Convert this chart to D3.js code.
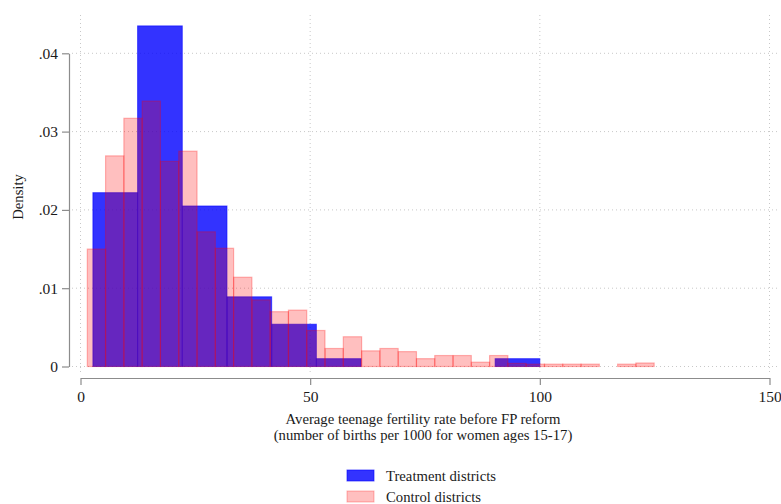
<!DOCTYPE html>
<html>
<head>
<meta charset="utf-8">
<script src="https://cdn.jsdelivr.net/npm/d3@7"></script>
<style>
  html, body { margin: 0; padding: 0; background: #fff; }
  svg { display: block; }
  text { font-family: "Liberation Serif", "Times New Roman", serif; fill: #1a1a1a; }
</style>
</head>
<body>
<svg id="chart" width="781" height="504"></svg>
<script>
// ---- data ----
const xTicks = [0, 50, 100, 150];
const yTicks = [0, 0.01, 0.02, 0.03, 0.04];
const yTickLabels = ["0", ".01", ".02", ".03", ".04"];
const seriesNames = ["Treatment districts", "Control districts"];

const treatmentEdges = [2.7, 12.43, 22.16, 31.89, 41.62, 51.35, 61.08, 70.81, 80.54, 90.27, 100.0];
const treatmentDensity = [0.0222, 0.0435, 0.0205, 0.0089, 0.0054, 0.0010, 0, 0, 0, 0.0010];

const controlEdges = [1.48, 5.46, 9.44, 13.42, 17.40, 21.39, 25.37, 29.35, 33.33, 37.31,
  41.29, 45.27, 49.25, 53.23, 57.21, 61.20, 65.18, 69.16, 73.14, 77.12,
  81.10, 85.08, 89.06, 93.04, 97.02, 101.01, 104.99, 108.97, 112.95, 116.93,
  120.91, 124.89];
const controlDensity = [0.0150, 0.0269, 0.0317, 0.0339, 0.0262, 0.0275, 0.0172, 0.0151, 0.0114, 0.0085,
  0.0070, 0.0072, 0.0046, 0.0023, 0.0038, 0.0020, 0.0023, 0.0019, 0.0010, 0.0014,
  0.0014, 0.00055, 0.0014, 0.0004, 0.0003, 0.0003, 0.0003, 0.0003, 0, 0.0003,
  0.00045];

const xTitle1 = "Average teenage fertility rate before FP reform";
const xTitle2 = "(number of births per 1000 for women ages 15-17)";
const yTitle = "Density";

// ---- layout ----
const svg = d3.select("#chart");
const x = d3.scaleLinear().domain([0, 150]).range([80.5, 769.5]);
const y = d3.scaleLinear().domain([0, 0.04]).range([366.5, 53.3]);

const gridColor = "#c8c8c8";
svg.append("g").selectAll("line").data(yTicks).join("line")
  .attr("x1", 72).attr("x2", 777)
  .attr("y1", d => y(d)).attr("y2", d => y(d))
  .attr("stroke", gridColor).attr("stroke-width", 1)
  .attr("stroke-dasharray", "1,3");
svg.append("g").selectAll("line").data(xTicks).join("line")
  .attr("x1", d => x(d)).attr("x2", d => x(d))
  .attr("y1", 15).attr("y2", 375)
  .attr("stroke", gridColor).attr("stroke-width", 1)
  .attr("stroke-dasharray", "1,3");

function bins(edges, dens) {
  return dens.map((v, i) => ({ x0: edges[i], x1: edges[i + 1], v }));
}

svg.append("g").selectAll("rect").data(bins(treatmentEdges, treatmentDensity).filter(d => d.v > 0)).join("rect")
  .attr("x", d => x(d.x0)).attr("width", d => x(d.x1) - x(d.x0))
  .attr("y", d => y(d.v)).attr("height", d => y(0) - y(d.v))
  .attr("fill", "#0000ff").attr("fill-opacity", 0.8)
  .attr("stroke", "#0000ff").attr("stroke-opacity", 0.6).attr("stroke-width", 1);

svg.append("g").selectAll("rect").data(bins(controlEdges, controlDensity).filter(d => d.v > 0)).join("rect")
  .attr("x", d => x(d.x0)).attr("width", d => x(d.x1) - x(d.x0))
  .attr("y", d => y(d.v)).attr("height", d => y(0) - y(d.v))
  .attr("fill", "#ff0000").attr("fill-opacity", 0.25)
  .attr("stroke", "#ff0000").attr("stroke-opacity", 0.28).attr("stroke-width", 1.2);

const yAxis = d3.axisLeft(y).tickValues(yTicks)
  .tickFormat((d, i) => yTickLabels[i]).tickSizeInner(7).tickSizeOuter(0).tickPadding(4);
const gy = svg.append("g").attr("transform", "translate(69,0)").call(yAxis);
gy.select(".domain").attr("stroke", "#8c8c8c").attr("stroke-width", 1.2);
gy.selectAll(".tick line").attr("stroke", "#8c8c8c").attr("stroke-width", 1.2);
gy.selectAll(".tick text").attr("font-size", 15.5).attr("font-family", "Liberation Serif").attr("fill", "#1a1a1a");

const xAxis = d3.axisBottom(x).tickValues(xTicks).tickFormat(d3.format("d"))
  .tickSizeInner(7).tickSizeOuter(0).tickPadding(6);
const gx = svg.append("g").attr("transform", "translate(0,378)").call(xAxis);
gx.select(".domain").attr("stroke", "#8c8c8c").attr("stroke-width", 1.2);
gx.selectAll(".tick line").attr("stroke", "#8c8c8c").attr("stroke-width", 1.2);
gx.selectAll(".tick text").attr("font-size", 15.5).attr("font-family", "Liberation Serif").attr("fill", "#1a1a1a");

svg.append("text").attr("x", 423).attr("y", 424).attr("text-anchor", "middle")
  .attr("font-size", 14.7).text(xTitle1);
svg.append("text").attr("x", 423).attr("y", 440).attr("text-anchor", "middle")
  .attr("font-size", 14.7).text(xTitle2);
svg.append("text").attr("transform", "translate(23,197) rotate(-90)").attr("text-anchor", "middle")
  .attr("font-size", 14.7).text(yTitle);

const legend = svg.append("g");
const legendStyles = [
  { fill: "#0000ff", fo: 0.8, stroke: "#0000ff", so: 0.6 },
  { fill: "#ff0000", fo: 0.25, stroke: "#ff0000", so: 0.28 }
];
seriesNames.forEach((name, i) => {
  const yy = 470 + i * 21;
  legend.append("rect").attr("x", 347).attr("y", yy).attr("width", 27).attr("height", 11)
    .attr("fill", legendStyles[i].fill).attr("fill-opacity", legendStyles[i].fo)
    .attr("stroke", legendStyles[i].stroke).attr("stroke-opacity", legendStyles[i].so);
  legend.append("text").attr("x", 386).attr("y", yy + 10.5).attr("font-size", 14.7).text(name);
});
</script>
</body>
</html>
